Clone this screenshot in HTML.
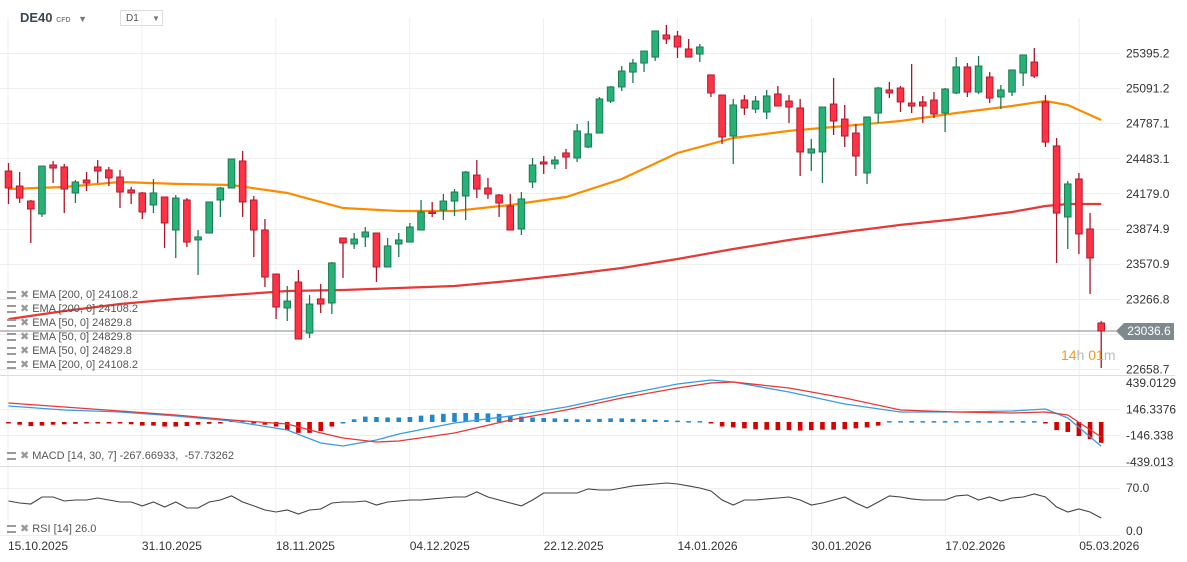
<!DOCTYPE html>
<html><head><meta charset="utf-8">
<style>
html,body{margin:0;padding:0;background:#fff;}
#wrap{position:relative;width:1187px;height:562px;overflow:hidden;font-family:"Liberation Sans",sans-serif;}
svg{position:absolute;left:0;top:0;}
.lg{position:absolute;left:7px;font-size:11px;color:#555;white-space:nowrap;line-height:12px;}
.lg .ic{display:inline-block;width:9px;height:8px;border-top:2px solid #999;border-bottom:2px solid #999;box-sizing:border-box;vertical-align:-1px;margin-right:4px;position:relative;}
.lg .x{color:#999;font-size:11px;margin-right:3px;}
</style></head><body>
<div id="wrap">
<svg id="chart" width="1187" height="562"></svg>
<div style="position:absolute;left:20px;top:10px;font-size:13px;font-weight:bold;color:#3a4750;white-space:nowrap;">DE40 <span style="font-size:7px;color:#888;font-weight:bold;">CFD</span> <span style="font-size:9px;color:#777;margin-left:4px;">▼</span></div>
<div style="position:absolute;left:120px;top:10px;width:43px;height:16px;border:1px solid #ddd;font-size:10px;color:#555;box-sizing:border-box;padding:2px 0 0 5px;white-space:nowrap;">D1<span style="position:absolute;left:31px;top:3px;font-size:8px;color:#777;">▼</span></div>
<div class="lg" style="top:289px"><span class="ic"></span><span class="x">✖</span>EMA [200, 0] 24108.2</div>
<div class="lg" style="top:303px"><span class="ic"></span><span class="x">✖</span>EMA [200, 0] 24108.2</div>
<div class="lg" style="top:317px"><span class="ic"></span><span class="x">✖</span>EMA [50, 0] 24829.8</div>
<div class="lg" style="top:331px"><span class="ic"></span><span class="x">✖</span>EMA [50, 0] 24829.8</div>
<div class="lg" style="top:345px"><span class="ic"></span><span class="x">✖</span>EMA [50, 0] 24829.8</div>
<div class="lg" style="top:359px"><span class="ic"></span><span class="x">✖</span>EMA [200, 0] 24108.2</div>
<div class="lg" style="top:450px"><span class="ic"></span><span class="x">✖</span>MACD [14, 30, 7] -267.66933, &nbsp;-57.73262</div>
<div class="lg" style="top:523px"><span class="ic"></span><span class="x">✖</span>RSI [14] 26.0</div>
<div style="position:absolute;left:1124px;top:323px;width:50px;height:17px;background:#7f8a8e;color:#fff;font-size:12px;line-height:17px;text-align:center;">23036.6</div>
<div style="position:absolute;left:1116px;top:323px;width:0;height:0;border-top:8.5px solid transparent;border-bottom:8.5px solid transparent;border-right:8px solid #7f8a8e;"></div>
<div style="position:absolute;left:1061px;top:347px;font-size:14px;color:#f39a1e;">14<span style="color:#bbb">h</span> 01<span style="color:#bbb">m</span></div>
</div>
<script>
const opens=[24373,24243,24113,24001,24425,24408,24183,24295,24408,24382,24321,24209,24183,24079,24148,23862,24122,23776,23836,24122,24226,24460,24122,23862,23481,23187,23412,22970,23265,23230,23793,23741,23802,23836,23542,23741,23758,23862,24018,24035,24113,24157,24338,24226,24165,24070,23871,24278,24451,24434,24529,24486,24581,24702,24979,25101,25230,25308,25360,25551,25542,25430,25386,25205,25031,24676,24988,24910,24884,25040,24979,24919,24529,24538,24953,24823,24702,24356,24875,25075,25092,24962,24971,24988,24875,25049,25274,25057,25187,25014,25057,25222,25317,24971,24590,23975,24304,23871,23057];
const highs=[24442,24364,24122,24416,24460,24434,24295,24364,24468,24408,24382,24235,24191,24304,24148,24165,24139,23862,24105,24235,24477,24546,24157,23957,23481,23377,23516,23299,23395,23585,23793,23836,23888,23836,23793,23836,23923,24122,24105,24174,24217,24373,24468,24313,24174,24174,24191,24486,24503,24503,24564,24780,24806,25014,25109,25282,25343,25412,25586,25638,25586,25516,25473,25205,25031,24997,25031,25023,25075,25109,25031,24997,24650,24927,25179,24945,24780,24841,25101,25144,25109,25300,25023,25057,25092,25360,25308,25369,25230,25118,25248,25378,25438,25031,24659,24287,24356,24009,23074];
const lows=[24087,24096,23750,23975,24269,24009,24096,24200,24269,24243,24053,24087,23957,24009,23706,23620,23715,23473,23836,23975,24226,23975,23628,23369,23091,23074,22918,22927,23143,23135,23447,23698,23715,23412,23542,23628,23758,23862,23975,23949,23983,23949,24139,24131,23975,23862,23819,24226,24347,24390,24390,24451,24572,24702,24962,25066,25135,25230,25326,25473,25352,25360,25317,25014,24607,24434,24858,24875,24823,24936,24789,24330,24373,24269,24685,24581,24330,24261,24789,25005,24884,24875,24789,24832,24711,25040,25014,25040,24962,24910,25023,25109,25179,24581,23577,23698,23654,23308,22667];
const closes=[24226,24139,24044,24416,24399,24217,24278,24269,24373,24313,24191,24183,24018,24183,23923,24139,23758,23802,24105,24226,24477,24105,23862,23455,23195,23247,22918,23221,23221,23577,23750,23784,23845,23542,23724,23776,23888,24018,24009,24113,24191,24364,24217,24174,24096,23862,24131,24425,24434,24468,24494,24720,24694,24997,25101,25239,25308,25412,25586,25516,25447,25360,25447,25049,24668,24945,24919,24979,25023,24936,24927,24538,24564,24927,24806,24676,24503,24841,25092,25049,24971,24936,24936,24867,25083,25274,25057,25282,25005,25075,25248,25378,25196,24624,24009,24261,23828,23620,22987];
const emaIdx=[0,5,10,15,20,25,30,35,40,45,50,55,60,65,70,75,80,85,90,93,95,98];
const ema50=[24217,24235,24278,24261,24252,24183,24053,24027,24027,24079,24148,24304,24529,24659,24720,24763,24806,24875,24936,24979,24945,24815];
const ema200=[23091,23161,23221,23265,23299,23334,23343,23360,23377,23421,23473,23533,23611,23698,23776,23845,23906,23957,24018,24070,24087,24087];
const macdIdx=[0,5,10,15,20,25,28,30,33,35,40,45,50,55,60,63,65,70,75,80,85,90,93,95,98];
const macdLine=[177,133,111,66,11,-88,-232,-265,-199,-133,-11,66,166,298,420,464,442,332,199,111,111,122,144,44,-268];
const signalLine=[210,166,122,77,22,-22,-120,-177,-221,-210,-122,22,133,265,376,431,442,376,265,133,111,99,111,77,-166];
const histogram=[-10,-30,-45,-40,-30,-25,-20,-15,-10,-10,-15,-25,-40,-40,-50,-50,-45,-30,-20,-10,15,15,-5,-30,-50,-90,-120,-120,-100,-50,0,30,60,55,50,50,55,70,80,90,100,100,100,95,90,70,60,50,45,40,35,30,30,35,40,40,35,30,25,20,15,10,10,-10,-50,-60,-70,-80,-85,-90,-90,-95,-90,-85,-85,-80,-70,-60,-40,10,10,10,10,10,10,10,10,10,10,10,10,10,10,-15,-90,-110,-155,-190,-230];
const rsi=[48.9,45.6,44.0,55.4,55.4,48.9,50.5,50.5,53.8,50.5,47.3,47.3,40.8,47.3,39.1,47.3,37.5,37.5,47.3,50.5,57.1,47.3,40.8,34.2,31.0,34.2,27.7,34.2,35.9,45.6,47.3,47.3,48.9,42.4,47.3,48.9,50.5,50.5,52.2,53.8,55.4,55.4,63.6,55.4,50.5,45.6,40.8,50.5,61.9,61.9,61.9,61.9,68.5,66.8,66.8,70.1,73.4,75.0,76.6,78.2,76.6,73.4,70.1,65.2,50.5,42.4,50.5,50.5,52.2,53.8,55.4,50.5,42.4,45.6,50.5,55.4,45.6,37.5,47.3,57.1,55.4,52.2,50.5,50.5,50.5,57.1,58.7,50.5,55.4,48.9,53.8,55.4,60.3,55.4,39.1,31.0,35.9,31.0,21.2];
const priceTicks=["25395.2","25091.2","24787.1","24483.1","24179.0","23874.9","23570.9","23266.8","22962.8","22658.7"];
const macdTicks=["439.0129","146.3376","-146.338","-439.013"];
const rsiTicks=["70.0","0.0"];
const dateLabels=["15.10.2025","31.10.2025","18.11.2025","04.12.2025","22.12.2025","14.01.2026","30.01.2026","17.02.2026","05.03.2026"];
const dateIdx=[0,12,24,36,48,60,72,84,96];

const NS="http://www.w3.org/2000/svg";
const svg=document.getElementById('chart');
function mk(t,a,p){const e=document.createElementNS(NS,t);for(const k in a)e.setAttribute(k,a[k]);(p||svg).appendChild(e);return e;}
const xS=i=>8+i*11.15+0.5;
const yP=p=>(25854-p)/8.66;
const yM=v=>422-v*0.0905;
const yR=v=>531-v*0.614;
const R=1120;

const grid=mk('g',{});


dateIdx.forEach((di,k)=>{const x=8+k*133.9;mk('line',{x1:x,x2:x,y1:18,y2:536,stroke:'#eee','stroke-width':1},grid);});
priceTicks.forEach(t=>{const y=Math.round(yP(+t))+0.5;mk('line',{x1:0,x2:R,y1:y,y2:y,stroke:'#eee'},grid);});
macdTicks.slice(1,3).forEach(t=>{const y=Math.round(yM(+t))+0.5;mk('line',{x1:0,x2:R,y1:y,y2:y,stroke:'#eee'},grid);});
[488.5,535.5].forEach(y=>mk('line',{x1:0,x2:R,y1:y,y2:y,stroke:'#eee'},grid));
[375.5,466.5].forEach(y=>mk('line',{x1:0,x2:1175,y1:y,y2:y,stroke:'#ddd'},grid));

priceTicks.forEach(t=>{const e=mk('text',{x:1126,y:yP(+t)+4.5,'font-size':12,fill:'#333','font-family':'Liberation Sans, sans-serif'});e.textContent=t;

});
macdTicks.forEach(t=>{let y=yM(+t)+4.5;if(t==="439.0129")y=387;if(t==="-439.013")y=466;const e=mk('text',{x:1126,y:y,'font-size':12,fill:'#333','font-family':'Liberation Sans, sans-serif'});e.textContent=t;

});
rsiTicks.forEach(t=>{const e=mk('text',{x:1126,y:yR(+t)+4,'font-size':12,fill:'#333','font-family':'Liberation Sans, sans-serif'});e.textContent=t;

});
dateLabels.forEach((t,k)=>{const e=mk('text',{x:8+k*133.9,y:550,'font-size':12,fill:'#333','font-family':'Liberation Sans, sans-serif'});e.textContent=t;

});

function pathOf(idx,vals,ys){return idx.map((i,k)=>(k?'L':'M')+xS(i).toFixed(1)+','+ys(vals[k]).toFixed(1)).join('');}
const e200=mk('path',{d:pathOf(emaIdx,ema200,yP),fill:'none',stroke:'#e53935','stroke-width':2.2});


const e50=mk('path',{d:pathOf(emaIdx,ema50,yP),fill:'none',stroke:'#fb8c00','stroke-width':2.2});



const last=closes[closes.length-1];
const cp=mk('line',{x1:0,x2:1118,y1:yP(last),y2:yP(last),stroke:'#7f8a8e','stroke-width':1});



opens.forEach((o,i)=>{
  const c=closes[i],up=c>=o,x=xS(i);
  const g=mk('g',{});
  
  
  mk('line',{x1:x,x2:x,y1:yP(highs[i]),y2:yP(lows[i]),stroke:up?'#1d7a52':'#a8162a','stroke-width':1.3},g);
  const t=yP(Math.max(o,c)),b=yP(Math.min(o,c));
  mk('rect',{x:x-3.3,y:t,width:6.6,height:Math.max(1.5,b-t),fill:up?'#26b276':'#fe3346',stroke:up?'#1d7a52':'#b5192c','stroke-width':1},g);
});

histogram.forEach((v,i)=>{
  const x=xS(i),y0=yM(0),y1=yM(v);
  const r=mk('rect',{x:x-2.3,y:Math.min(y0,y1),width:4.6,height:Math.max(1.5,Math.abs(y1-y0)),fill:v>=0?'#1e88d0':'#d50000'});
  
  
});
const ml=mk('path',{d:pathOf(macdIdx,macdLine,yM),fill:'none',stroke:'#3a9be0','stroke-width':1.3});


const sl=mk('path',{d:pathOf(macdIdx,signalLine,yM),fill:'none',stroke:'#e53935','stroke-width':1.3});



const rl=mk('path',{d:rsi.map((v,i)=>(i?'L':'M')+xS(i).toFixed(1)+','+yR(v).toFixed(1)).join(''),fill:'none',stroke:'#444','stroke-width':1.1});


</script>
</body></html>
